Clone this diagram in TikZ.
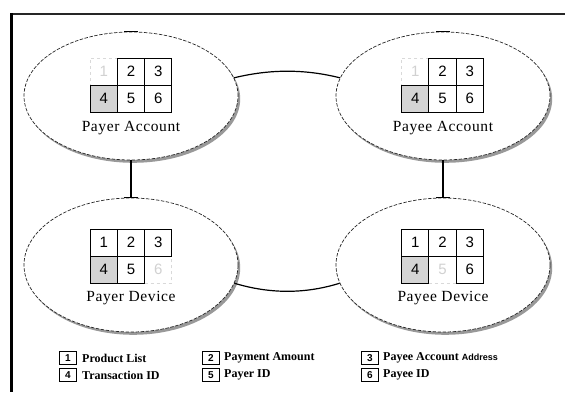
\documentclass[tikz,border=0pt]{standalone}
\usepackage{fontspec}
\setmainfont{Liberation Serif}
\newfontfamily\arialf{Liberation Sans}
\newfontfamily\spacedserif[LetterSpace=4]{Liberation Serif}
\usetikzlibrary{shapes.geometric,shadows}
\begin{document}
\begin{tikzpicture}[x=1pt,y=-1pt,
  ell/.style={ellipse, draw=black!85, line width=0.7pt, dash pattern=on 3.5pt off 1.5pt,
    fill=white, inner sep=0pt, minimum width=214pt, minimum height=128pt,
    drop shadow={shadow xshift=2.2pt, shadow yshift=-2.8pt, fill=black!40, opacity=1}},
  cell/.style={draw=black, line width=1pt, minimum width=27.3pt, minimum height=27pt,
    inner sep=0pt, font=\arialf\fontsize{15}{15}\selectfont},
  hcell/.style={cell, fill=black!17},
  fcell/.style={cell, draw=black!15, dashed, text=black!18},
  lab/.style={font=\spacedserif\fontsize{15.5}{15.5}\selectfont, inner sep=0pt},
  conn/.style={line width=1.2pt, black},
  tickl/.style={line width=1.2pt, black},
  lbox/.style={draw=black, line width=0.9pt, minimum width=17pt, minimum height=13pt,
    inner sep=0pt, font=\arialf\bfseries\fontsize{10}{10}\selectfont},
  ltext/.style={anchor=west, inner sep=0pt, font=\bfseries\fontsize{12}{12}\selectfont}
]
\useasboundingbox (0,0) rectangle (565,392);
% frame
\draw[line width=1.6pt, black!85] (10,14) -- (565,14);
\draw[line width=3pt, black] (11,13.2) -- (11,392);

% ellipses
\node[ell] (pa) at (131,96) {};
\node[ell] (pe) at (443,96) {};
\node[ell, minimum height=134pt] (pd) at (131,265) {};
\node[ell, minimum height=134pt] (pf) at (443,265) {};

% connectors
\draw[conn] (pa.10) .. controls (270,69) and (305,69) .. (pe.170);
\draw[conn] (pd.-10) .. controls (270,294) and (305,294) .. (pf.-170);
\draw[conn] (pa.south) -- (pd.north);
\draw[conn] (pe.south) -- (pf.north);
\foreach \e in {pa,pe,pd,pf}
  \draw[tickl] ([xshift=-7pt]\e.north) -- ([xshift=7pt]\e.north);

% Payer Account grid
\node[fcell] (pa1) at (103.7,71.5) {1};
\node[cell]  (pa2) at (131,71.5) {2};
\node[cell]  (pa3) at (158.3,71.5) {3};
\node[hcell] (pa4) at (103.7,98.5) {4};
\node[cell]  (pa5) at (131,98.5) {5};
\node[cell]  (pa6) at (158.3,98.5) {6};
\node[lab] (lpa) at (131,128) {Payer Account};

% Payee Account grid
\node[fcell] (pe1) at (415.2,71.5) {1};
\node[cell]  (pe2) at (442.5,71.5) {2};
\node[cell]  (pe3) at (469.8,71.5) {3};
\node[hcell] (pe4) at (415.2,98.5) {4};
\node[cell]  (pe5) at (442.5,98.5) {5};
\node[cell]  (pe6) at (469.8,98.5) {6};
\node[lab] (lpe) at (443,128) {Payee Account};

% Payer Device grid
\node[fcell] (pd6) at (158.3,269.5) {6};
\node[cell]  (pd1) at (103.7,242.5) {1};
\node[cell]  (pd2) at (131,242.5) {2};
\node[cell]  (pd3) at (158.3,242.5) {3};
\node[hcell] (pd4) at (103.7,269.5) {4};
\node[cell]  (pd5) at (131,269.5) {5};
\node[lab] (lpd) at (131,298) {Payer Device};

% Payee Device grid
\node[fcell] (pf5) at (442.5,269.5) {5};
\node[cell]  (pf1) at (415.2,242.5) {1};
\node[cell]  (pf2) at (442.5,242.5) {2};
\node[cell]  (pf3) at (469.8,242.5) {3};
\node[hcell] (pf4) at (415.2,269.5) {4};
\node[cell]  (pf6) at (469.8,269.5) {6};
\node[lab] (lpf) at (443,298) {Payee Device};

% legend
\node[lbox] (k1) at (68,358) {1};
\node[ltext] (t1) at (82,358) {Product List};
\node[lbox] (k2) at (211,358) {2};
\node[ltext] (t2) at (224,358) {Payment Amount};
\node[lbox] (k3) at (370,358) {3};
\node[ltext] (t3) at (383,358) {Payee Account {\arialf\bfseries\fontsize{9}{9}\selectfont Address}};
\node[lbox] (k4) at (68,375) {4};
\node[ltext] (t4) at (82,375) {Transaction ID};
\node[lbox] (k5) at (211,375) {5};
\node[ltext] (t5) at (224,375) {Payer ID};
\node[lbox] (k6) at (370,375) {6};
\node[ltext] (t6) at (383,375) {Payee ID};
\end{tikzpicture}
\end{document}
